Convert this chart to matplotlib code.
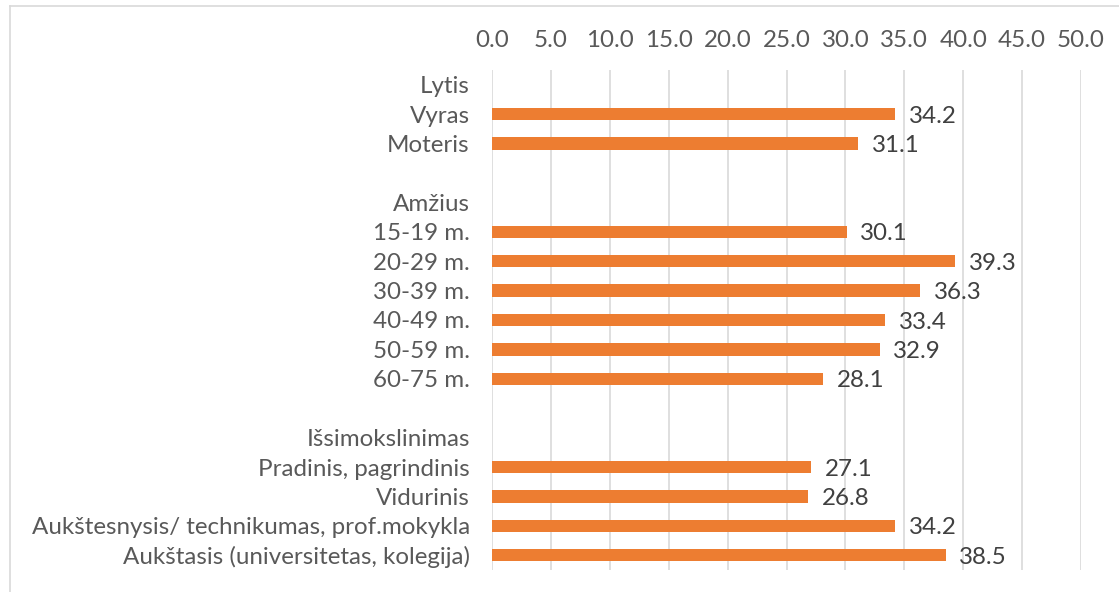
import matplotlib.pyplot as plt
from matplotlib.lines import Line2D

# row labels (group headers and blank spacer rows have no value)
labels = ["Lytis", "Vyras", "Moteris", "",
          "Amžius", "15-19 m.", "20-29 m.", "30-39 m.", "40-49 m.", "50-59 m.", "60-75 m.", "",
          "Išsimokslinimas", "Pradinis, pagrindinis", "Vidurinis",
          "Aukštesnysis/ technikumas, prof.mokykla", "Aukštasis (universitetas, kolegija)"]
values = [None, 34.2, 31.1, None,
          None, 30.1, 39.3, 36.3, 33.4, 32.9, 28.1, None,
          None, 27.1, 26.8, 34.2, 38.5]
xticks = [0, 5, 10, 15, 20, 25, 30, 35, 40, 45, 50]

plt.rcParams['font.family'] = ['Lato', 'DejaVu Sans']
txt = '#595959'
bar_color = '#ED7D31'
grid_color = '#D9D9D9'
fs = 17.4

fig = plt.figure(figsize=(11.19, 5.92), dpi=100)
ax = fig.add_axes([492 / 1119, 1 - 570 / 592, (1081 - 492) / 1119, 500 / 592])

pos = list(range(len(labels)))
for i, v in enumerate(values):
    if v is None:
        continue
    ax.barh(i, v, height=0.42, color=bar_color, zorder=3)
    ax.annotate(f"{v:.1f}", (v, i), xytext=(10, -1.5), textcoords='offset points',
                ha='left', va='center', fontsize=fs, color='#404040')

ax.set_xlim(0, 50)
ax.set_ylim(len(labels) - 0.5, -0.5)
ax.set_xticks(xticks)
ax.set_xticklabels([f"{t:.1f}" for t in xticks])
ax.set_yticks(pos)
ax.set_yticklabels(labels)
ax.xaxis.tick_top()
ax.tick_params(axis='x', length=0, pad=14, labelsize=fs, labelcolor=txt)
ax.tick_params(axis='y', length=0, pad=16, labelsize=fs, labelcolor=txt)
ax.grid(axis='x', color=grid_color, linewidth=1.2, zorder=0)
for s in ax.spines.values():
    s.set_visible(False)

# chart border (left and top visible)
fig.add_artist(Line2D([10 / 1119, 10 / 1119], [0, 1 - 6 / 592], color=grid_color, lw=1.2))
fig.add_artist(Line2D([10 / 1119, 1], [1 - 6 / 592, 1 - 6 / 592], color=grid_color, lw=1.2))

fig.savefig("out.png", dpi=100)
